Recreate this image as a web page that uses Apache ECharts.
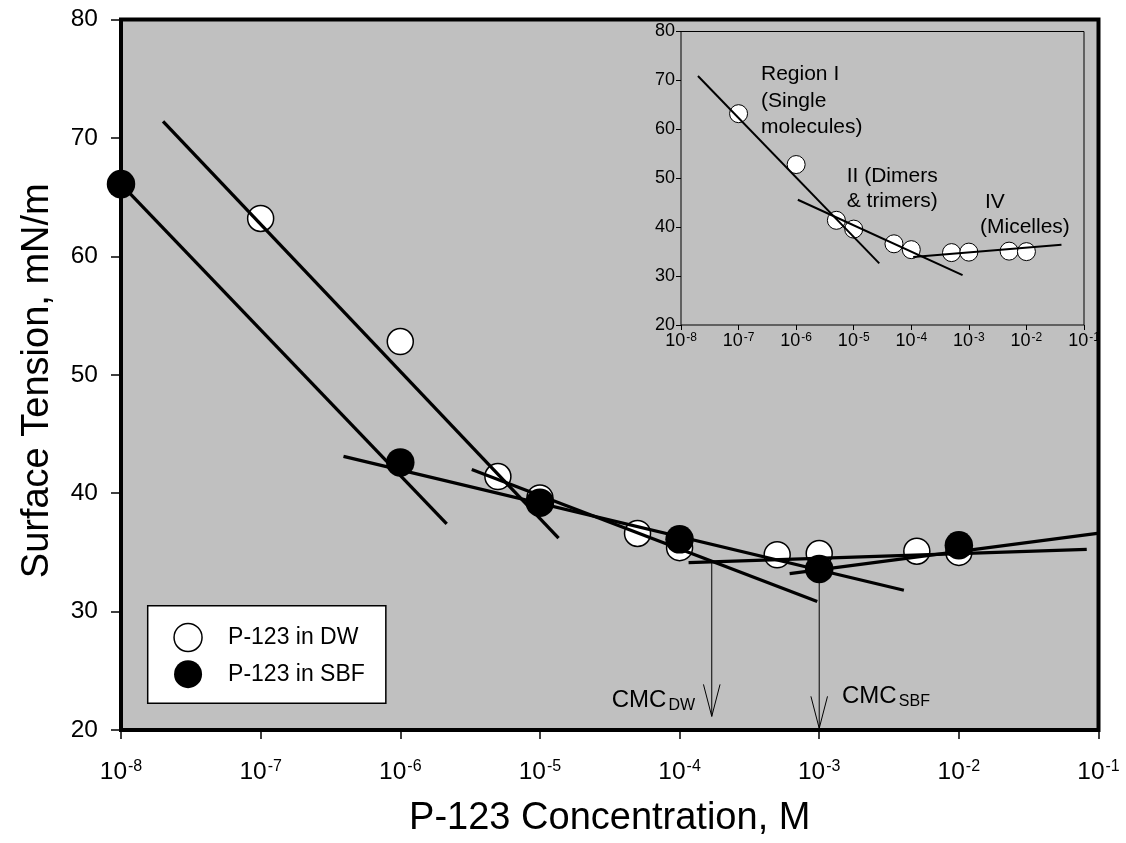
<!DOCTYPE html>
<html>
<head>
<meta charset="utf-8">
<script src="https://cdn.jsdelivr.net/npm/echarts@6/dist/echarts.min.js"></script>
<style>
  html, body { margin: 0; padding: 0; background: #ffffff; }
  #chart { width: 1126px; height: 843px; }
</style>
</head>
<body>
<div id="chart"></div>
<script>
// Surface tension of P-123 versus concentration (log scale), in DW and SBF.
const dwConc = [1e-7, 1e-6, 5e-6, 1e-5, 5e-5, 1e-4, 5e-4, 1e-3, 5e-3, 1e-2];
const dwTension = [63.2, 52.8, 41.4, 39.6, 36.6, 35.4, 34.8, 34.9, 35.1, 35.0];
const sbfConc = [1e-8, 1e-6, 1e-5, 1e-4, 1e-3, 1e-2];
const sbfTension = [66.1, 42.6, 39.2, 36.1, 33.6, 35.6];

// Straight-line fits on the main plot: [[c0, g0], [c1, g1]]
const fitDwI = [[2.0e-8, 71.4], [1.36e-5, 36.2]];
const fitDwII = [[3.25e-6, 42.0], [9.68e-4, 30.85]];
const fitDwIV = [[1.16e-4, 34.13], [8.24e-2, 35.25]];
const fitSbfI = [[1e-8, 66.1], [2.15e-6, 37.4]];
const fitSbfII = [[3.92e-7, 43.1], [4.04e-3, 31.8]];
const fitSbfIV = [[6.14e-4, 33.2], [9.8e-2, 36.6]];

// Fits drawn in the inset (DW only)
const insetFitI = [[1.97e-8, 70.9], [2.78e-5, 32.6]];
const insetFitII = [[1.07e-6, 45.6], [7.78e-4, 30.2]];
const insetFitIV = [[1.08e-4, 33.9], [4.06e-2, 36.4]];

// CMC markers: concentration, tension where the arrow starts, tension at its tip
const cmcConc = [1.7e-4, 1.0e-3];
const cmcFrom = [34.2, 33.6];
const cmcTo = [21.15, 20.14];

// Axis ticks
const xExponents = [-8, -7, -6, -5, -4, -3, -2, -1];
const yTicks = [20, 30, 40, 50, 60, 70, 80];

const FONT = '"Liberation Sans", Arial, Helvetica, sans-serif';
const PLOT_BG = '#c0c0c0';

const zip = (xs, ys) => xs.map((x, i) => [x, ys[i]]);
const dwData = zip(dwConc, dwTension);
const sbfData = zip(sbfConc, sbfTension);

function powLabel(v) {
  const e = Math.round(Math.log10(v));
  return xExponents.indexOf(e) >= 0 ? '{b|10}{s|' + e + '}' : '';
}

function logAxis(gridIndex, base, sup, margin, tickLen) {
  return {
    type: 'log', logBase: 10, gridIndex: gridIndex,
    min: Math.pow(10, xExponents[0]), max: Math.pow(10, xExponents[xExponents.length - 1]),
    splitNumber: xExponents.length - 1,
    axisLine: { show: false },
    axisTick: { show: true, inside: false, length: tickLen, lineStyle: { color: '#000', width: gridIndex === 0 ? 1.5 : 1 } },
    minorTick: { show: false },
    splitLine: { show: false },
    axisLabel: {
      show: true, margin: margin, formatter: powLabel,
      rich: {
        b: { fontSize: base, lineHeight: base + 1, fontFamily: FONT, color: '#000' },
        s: { fontSize: sup, lineHeight: sup, verticalAlign: 'top', padding: [0, 0, 0, 1], fontFamily: FONT, color: '#000' }
      }
    }
  };
}

function valAxis(gridIndex, size, margin, tickLen) {
  return {
    type: 'value', gridIndex: gridIndex,
    min: yTicks[0], max: yTicks[yTicks.length - 1], interval: yTicks[1] - yTicks[0],
    axisLine: { show: false },
    axisTick: { show: true, inside: false, length: tickLen, lineStyle: { color: '#000', width: gridIndex === 0 ? 1.5 : 1 } },
    splitLine: { show: false },
    axisLabel: { show: true, margin: margin, fontSize: size, fontFamily: FONT, color: '#000' }
  };
}

function fitSeries(seg, axisIdx, width) {
  return {
    type: 'line', xAxisIndex: axisIdx, yAxisIndex: axisIdx, data: seg,
    symbol: 'none', silent: true, clip: false, z: 5,
    lineStyle: { color: '#000', width: width, opacity: 1 }
  };
}

const openCircle = { color: '#ffffff', borderColor: '#000', borderWidth: 1.5, opacity: 1 };
const filledCircle = { color: '#000', borderColor: '#000', borderWidth: 0, opacity: 1 };

const chart = echarts.init(document.getElementById('chart'), null, { renderer: 'canvas' });

const option = {
  backgroundColor: '#ffffff',
  animation: false,
  grid: [
    { left: 121, right: 27.5, top: 19.5, bottom: 112, show: true, backgroundColor: PLOT_BG, borderColor: '#000', borderWidth: 4, containLabel: false },
    { left: 681, right: 42, top: 31.5, bottom: 518, show: true, backgroundColor: PLOT_BG, borderColor: '#000', borderWidth: 1, containLabel: false, z: 3 }
  ],
  xAxis: [
    Object.assign(logAxis(0, 24.5, 16, 29, 9), {
      name: 'P-123 Concentration, M', nameLocation: 'middle', nameGap: 70,
      nameTextStyle: { fontSize: 38, fontFamily: FONT, color: '#000' }
    }),
    logAxis(1, 18, 12, 7, 5)
  ],
  yAxis: [
    Object.assign(valAxis(0, 24.5, 23, 10), {
      name: 'Surface Tension, mN/m', nameLocation: 'middle', nameGap: 64,
      nameTextStyle: { fontSize: 38, fontFamily: FONT, color: '#000', padding: [0, 12, 0, 0] }
    }),
    valAxis(1, 18, 6, 5)
  ],
  legend: {
    orient: 'vertical', left: 147.7, top: 605.7,
    data: [
      { name: 'P-123 in DW', icon: 'circle', itemStyle: openCircle },
      { name: 'P-123 in SBF', icon: 'circle', itemStyle: filledCircle }
    ],
    itemWidth: 28, itemHeight: 28, itemGap: 8,
    padding: [17, 21, 15, 25.6],
    backgroundColor: '#ffffff', borderColor: '#000', borderWidth: 1.5, borderRadius: 0,
    textStyle: { fontSize: 23, fontFamily: FONT, color: '#000', padding: [0, 0, 0, 21] },
    selectedMode: false
  },
  series: [
    // CMC arrows (thin line with open arrowhead)
    {
      type: 'custom', xAxisIndex: 0, yAxisIndex: 0, silent: true, clip: false, z: 2,
      data: cmcConc.map((c, i) => [c, cmcFrom[i], cmcTo[i]]),
      encode: { x: 0, y: [1, 2] },
      renderItem: function (params, api) {
        const p0 = api.coord([api.value(0), api.value(1)]);
        const p1 = api.coord([api.value(0), api.value(2)]);
        const hw = 8.3, hh = 32;
        return {
          type: 'group',
          children: [
            { type: 'line', shape: { x1: p0[0], y1: p0[1], x2: p1[0], y2: p1[1] }, style: { stroke: '#000', lineWidth: 1 } },
            { type: 'polyline', shape: { points: [[p1[0] - hw, p1[1] - hh], [p1[0], p1[1]], [p1[0] + hw, p1[1] - hh]] }, style: { stroke: '#000', lineWidth: 1, fill: null } }
          ]
        };
      }
    },
    {
      name: 'P-123 in DW', type: 'scatter', xAxisIndex: 0, yAxisIndex: 0,
      data: dwData, symbol: 'circle', symbolSize: 26, clip: false, z: 3,
      itemStyle: openCircle, emphasis: { disabled: true }
    },
    {
      name: 'P-123 in SBF', type: 'scatter', xAxisIndex: 0, yAxisIndex: 0,
      data: sbfData, symbol: 'circle', symbolSize: 28.5, clip: false, z: 4,
      itemStyle: filledCircle, emphasis: { disabled: true }
    },
    fitSeries(fitDwI, 0, 3.3),
    fitSeries(fitDwII, 0, 3.3),
    fitSeries(fitDwIV, 0, 3.3),
    fitSeries(fitSbfI, 0, 3.3),
    fitSeries(fitSbfII, 0, 3.3),
    fitSeries(fitSbfIV, 0, 3.3),
    // inset
    {
      name: 'inset DW', type: 'scatter', xAxisIndex: 1, yAxisIndex: 1,
      data: dwData, symbol: 'circle', symbolSize: 18, clip: false, z: 6,
      itemStyle: { color: '#ffffff', borderColor: '#000', borderWidth: 1, opacity: 1 },
      emphasis: { disabled: true }
    },
    Object.assign(fitSeries(insetFitI, 1, 2), { z: 7 }),
    Object.assign(fitSeries(insetFitII, 1, 2), { z: 7 }),
    Object.assign(fitSeries(insetFitIV, 1, 2), { z: 7 })
  ],
  graphic: [
    // region notes in the inset
    { type: 'text', left: 761, top: 61, z: 10, style: { text: 'Region I\n(Single\nmolecules)', font: '21px ' + FONT, fill: '#000', lineHeight: 26.5 } },
    { type: 'text', left: 846.7, top: 163, z: 10, style: { text: 'II (Dimers\n& trimers)', font: '21px ' + FONT, fill: '#000', lineHeight: 25.5 } },
    { type: 'text', left: 985, top: 189, z: 10, style: { text: 'IV', font: '21px ' + FONT, fill: '#000', lineHeight: 25.5 } },
    { type: 'text', left: 980, top: 214.5, z: 10, style: { text: '(Micelles)', font: '21px ' + FONT, fill: '#000', lineHeight: 25.5 } },
    // CMC labels
    { type: 'text', x: 611.7, y: 688, z: 10, style: { text: 'CMC', font: '24px ' + FONT, fill: '#000', verticalAlign: 'alphabetic' } },
    { type: 'text', x: 668.5, y: 697.5, z: 10, style: { text: 'DW', font: '16px ' + FONT, fill: '#000', verticalAlign: 'alphabetic' } },
    { type: 'text', x: 842, y: 684, z: 10, style: { text: 'CMC', font: '24px ' + FONT, fill: '#000', verticalAlign: 'alphabetic' } },
    { type: 'text', x: 898.8, y: 693.5, z: 10, style: { text: 'SBF', font: '16px ' + FONT, fill: '#000', verticalAlign: 'alphabetic' } }
  ]
};

chart.setOption(option);
</script>
</body>
</html>
